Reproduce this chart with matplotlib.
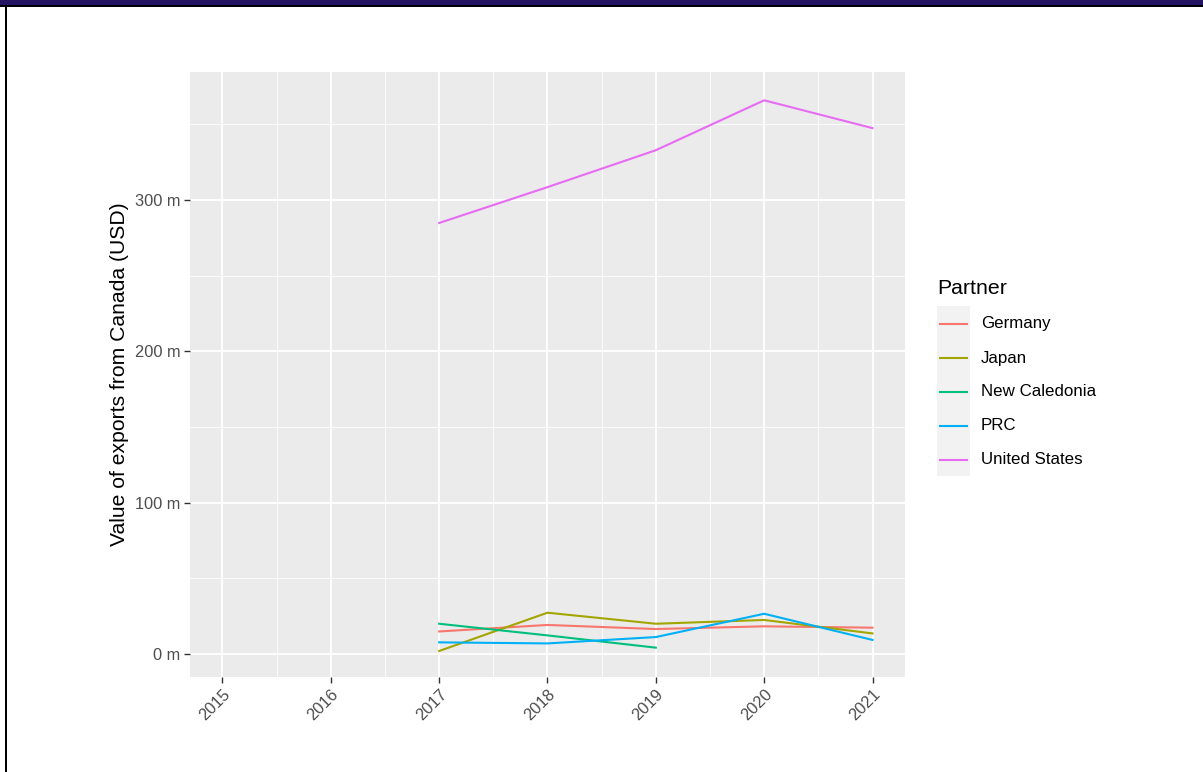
import matplotlib
matplotlib.use("Agg")
import matplotlib.pyplot as plt
from matplotlib.patches import Rectangle
from matplotlib.lines import Line2D
import numpy as np

plt.rcParams['font.family'] = ['Liberation Sans', 'DejaVu Sans']

# data (millions USD)
years = [2015, 2016, 2017, 2018, 2019, 2020, 2021]
partners = ['Germany', 'Japan', 'New Caledonia', 'PRC', 'United States']
colors = ['#F8766D', '#A3A500', '#00BF7D', '#00B0F6', '#E76BF3']
germany_years = [2017, 2018, 2019, 2020, 2021]
germany = [14.9, 19.2, 16.5, 18.3, 17.4]
japan_years = [2017, 2018, 2019, 2020, 2021]
japan = [2.0, 27.3, 20.0, 22.5, 13.6]
newcal_years = [2017, 2018, 2019]
newcal = [20.0, 12.3, 4.2]
prc_years = [2017, 2018, 2019, 2020, 2021]
prc = [7.7, 7.0, 11.2, 26.6, 9.3]
us_years = [2017, 2018, 2019, 2020, 2021]
us = [284.9, 308.6, 333.0, 366.0, 347.6]

series = [(germany_years, germany), (japan_years, japan), (newcal_years, newcal),
          (prc_years, prc), (us_years, us)]

W, H = 1203, 772
fig = plt.figure(figsize=(W / 100, H / 100), dpi=100)
ax = fig.add_axes([190 / W, 1 - 677 / H, (905 - 190) / W, (677 - 72) / H])
ax.set_facecolor('#EBEBEB')
for s in ax.spines.values():
    s.set_visible(False)

for (xs, ys), c in zip(series, colors):
    ax.plot(xs, ys, color=c, lw=1.5, zorder=3)

ax.set_xlim(2014.7, 2021.3)
ax.set_ylim(-15.2, 384.7)
ax.set_xticks(years)
ax.set_xticklabels([str(y) for y in years], rotation=45, ha='right', va='top',
                   rotation_mode='anchor')
ax.set_yticks([0, 100, 200, 300])
ax.set_yticklabels(['0 m', '100 m', '200 m', '300 m'])
ax.set_xticks(np.arange(2015.5, 2021, 1), minor=True)
ax.set_yticks([50, 150, 250, 350], minor=True)
ax.grid(True, which='major', color='white', lw=1.3, zorder=1)
ax.grid(True, which='minor', color='white', lw=0.6, zorder=1)
ax.set_axisbelow(True)
ax.tick_params(which='major', length=4, color='#333333', labelcolor='#4D4D4D',
               labelsize=11.8, width=1, pad=3)
ax.tick_params(which='minor', length=0)
ax.set_ylabel('Value of exports from Canada (USD)', fontsize=15.2, color='black',
              labelpad=4)

# legend
fig.text(937 / W, 1 - 288 / H, 'Partner', fontsize=15.3, va='center', ha='left')
fig.add_artist(Rectangle((937 / W, 1 - 476 / H), 33 / W, 170 / H,
                         transform=fig.transFigure, facecolor='#F2F2F2',
                         edgecolor='none'))
for i, (p, c) in enumerate(zip(partners, colors)):
    yy = 1 - (324 + 34 * i) / H
    fig.add_artist(Line2D([940 / W, 967 / W], [yy, yy], transform=fig.transFigure,
                          color=c, lw=1.5))
    fig.text(981 / W, yy, p, fontsize=12.2, va='center', ha='left')

# frame
fig.add_artist(Rectangle((0, 1 - 5 / H), 1, 5 / H, transform=fig.transFigure,
                         facecolor='#231562', edgecolor='none'))
fig.add_artist(Rectangle((0, 1 - 7 / H), 1, 2 / H, transform=fig.transFigure,
                         facecolor='black', edgecolor='none'))
fig.add_artist(Rectangle((5 / W, 0), 2 / W, 1 - 5 / H, transform=fig.transFigure,
                         facecolor='black', edgecolor='none'))

fig.savefig('out.png', dpi=100)
